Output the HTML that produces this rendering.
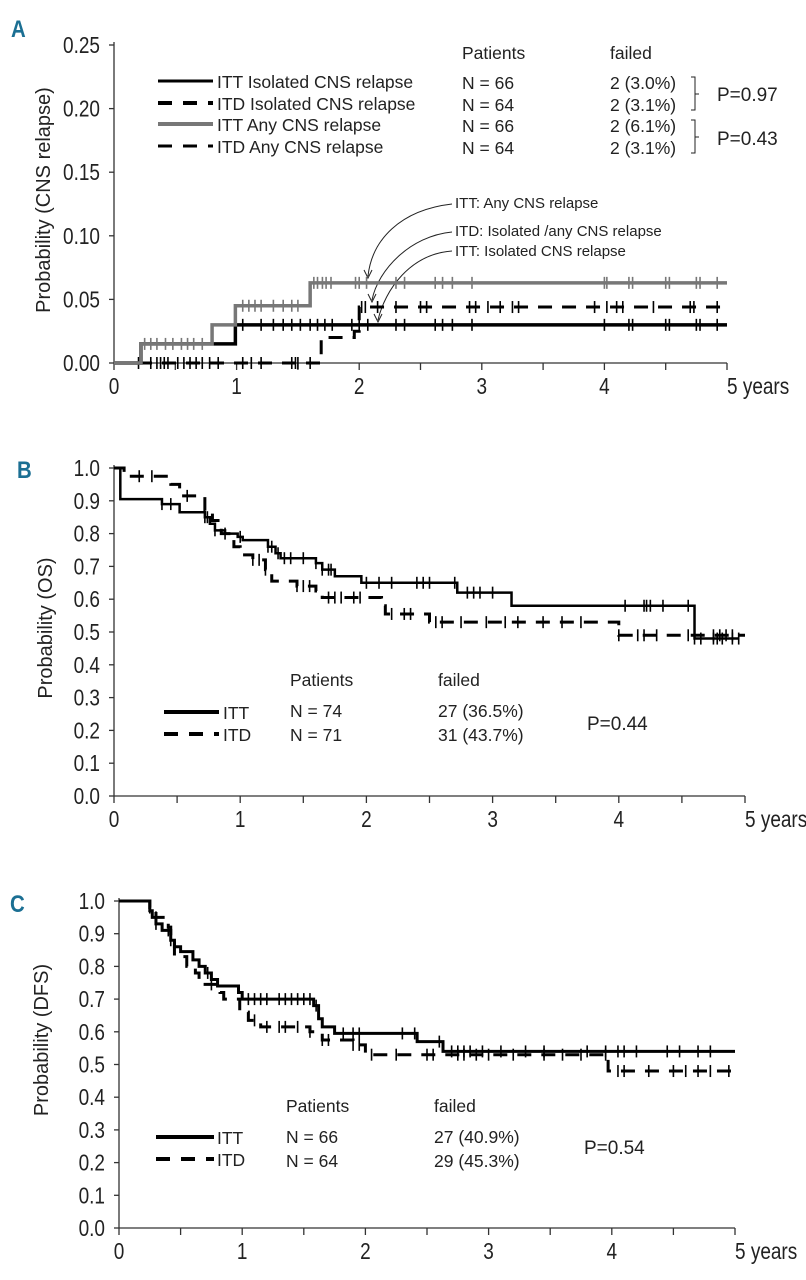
<!DOCTYPE html>
<html><head><meta charset="utf-8">
<style>
html,body{margin:0;padding:0;background:#fff;}
svg{display:block;}
text{font-family:"Liberation Sans",sans-serif;fill:#222;}
.tick{font-size:20px;}
.lg{font-size:17.5px;}
.ann{font-family:"Liberation Sans",sans-serif;font-size:15px;}
.letter{font-family:"Liberation Sans",sans-serif;font-weight:bold;fill:#1b6f93;font-size:24px;}
</style></head>
<body>
<svg id="fig" width="806" height="1280" viewBox="0 0 806 1280" xmlns="http://www.w3.org/2000/svg">
<text class="letter" x="11" y="37" transform="translate(11,37) scale(0.85,1) translate(-11,-37)">A</text>
<text class="letter" x="17" y="478" transform="translate(17,478) scale(0.85,1) translate(-17,-478)">B</text>
<text class="letter" x="10" y="912" transform="translate(10,912) scale(0.85,1) translate(-10,-912)">C</text>

<g>
<text class="lg" x="462" y="59">Patients</text><text class="lg" x="610" y="59">failed</text>
<line x1="158" y1="81" x2="213" y2="81" stroke="#000" stroke-width="3"/>
<line x1="158" y1="103" x2="213" y2="103" stroke="#000" stroke-width="4" stroke-dasharray="14,11"/>
<line x1="158" y1="124" x2="213" y2="124" stroke="#777" stroke-width="4"/>
<line x1="158" y1="146" x2="213" y2="146" stroke="#000" stroke-width="3" stroke-dasharray="14,11"/>
<text class="lg" x="217" y="88">ITT Isolated CNS relapse</text>
<text class="lg" x="217" y="110">ITD Isolated CNS relapse</text>
<text class="lg" x="217" y="131">ITT Any CNS relapse</text>
<text class="lg" x="217" y="153">ITD Any CNS relapse</text>
<text class="lg" x="462" y="89">N = 66</text><text class="lg" x="462" y="111">N = 64</text>
<text class="lg" x="462" y="132">N = 66</text><text class="lg" x="462" y="154">N = 64</text>
<text class="lg" x="610" y="89">2 (3.0%)</text><text class="lg" x="610" y="111">2 (3.1%)</text>
<text class="lg" x="610" y="132">2 (6.1%)</text><text class="lg" x="610" y="154">2 (3.1%)</text>
<path d="M691 77 H695 V110 H691 M695 94 H699" fill="none" stroke="#222" stroke-width="1"/>
<path d="M691 120 H695 V153 H691 M695 137 H699" fill="none" stroke="#222" stroke-width="1"/>
<text class="lg" x="717" y="101" style="font-size:19px">P=0.97</text>
<text class="lg" x="717" y="145" style="font-size:19px">P=0.43</text>
</g>
<g>
<text class="ann" x="455" y="208">ITT: Any CNS relapse</text>
<text class="ann" x="455" y="236">ITD: Isolated /any CNS relapse</text>
<text class="ann" x="455" y="256">ITT: Isolated CNS relapse</text>
<g fill="none" stroke="#222" stroke-width="1">
<path d="M452 204 C400 210 372 240 368 276"/><path d="M364 270 L368 278 L372 270"/>
<path d="M452 232 C410 236 378 270 372 300"/><path d="M368 294 L372 302 L376 294"/>
<path d="M452 251 C410 254 385 290 378 320"/><path d="M374 314 L378 322 L382 314"/>
</g>
</g>

<g>
<text class="lg" x="290" y="686">Patients</text><text class="lg" x="438" y="686">failed</text>
<line x1="164" y1="712" x2="219" y2="712" stroke="#000" stroke-width="4"/>
<line x1="164" y1="734" x2="219" y2="734" stroke="#000" stroke-width="4" stroke-dasharray="14,11"/>
<text class="lg" x="223" y="719">ITT</text><text class="lg" x="223" y="741">ITD</text>
<text class="lg" x="290" y="717">N = 74</text><text class="lg" x="290" y="741">N = 71</text>
<text class="lg" x="438" y="717">27 (36.5%)</text><text class="lg" x="438" y="741">31 (43.7%)</text>
<text class="lg" x="587" y="730" style="font-size:19px">P=0.44</text>
</g>
<g>
<text class="lg" x="286" y="1112">Patients</text><text class="lg" x="434" y="1112">failed</text>
<line x1="156" y1="1137" x2="214" y2="1137" stroke="#000" stroke-width="4"/>
<line x1="156" y1="1159" x2="214" y2="1159" stroke="#000" stroke-width="4" stroke-dasharray="14,11"/>
<text class="lg" x="217" y="1144">ITT</text><text class="lg" x="217" y="1166">ITD</text>
<text class="lg" x="286" y="1143">N = 66</text><text class="lg" x="286" y="1167">N = 64</text>
<text class="lg" x="434" y="1143">27 (40.9%)</text><text class="lg" x="434" y="1167">29 (45.3%)</text>
<text class="lg" x="584" y="1154" style="font-size:19px">P=0.54</text>
</g>
</svg>
<script>
// ---------- Panel A data ----------
const aYTicks = ["0.00","0.05","0.10","0.15","0.20","0.25"];
const aYVals = [0,0.05,0.10,0.15,0.20,0.25];
const xTickLabels = ["0","1","2","3","4","5 years"];
const xTickVals = [0,1,2,3,4,5];
const aIttIsoTimes = [0,0.22,0.99];
const aIttIsoVals  = [0,0.015,0.03];
const aIttIsoCens = [1.05,1.2,1.3,1.38,1.45,1.52,1.6,1.66,1.72,1.78,1.94,2.0,2.07,2.3,2.37,2.62,2.68,2.76,2.92,4.0,4.2,4.23,4.5,4.53,4.75,4.78,4.92];
const aItdTimes = [0,1.69,1.96,2.0];
const aItdVals  = [0,0.02,0.025,0.044];
const aItdCens0 = [0.2,0.3,0.35,0.38,0.41,0.44,0.52,0.57,0.62,0.67,0.72,0.78,0.85,1.05,1.12,1.2,1.45,1.48,1.5,1.6];
const aItdCens = [2.02,2.05,2.15,2.3,2.5,2.55,2.9,2.95,3.05,3.15,3.25,3.3,3.92,4.02,4.1,4.15,4.4,4.7,4.73,4.92];
const aIttAnyTimes = [0,0.22,0.8,0.99,1.6];
const aIttAnyVals  = [0,0.015,0.03,0.045,0.063];
const aIttAnyCens = [0.25,0.3,0.35,0.42,0.48,0.55,0.6,0.65,0.72,1.05,1.1,1.15,1.2,1.3,1.38,1.45,1.5,1.63,1.66,1.7,1.73,1.77,1.97,2.0,2.06,2.3,2.37,2.62,2.68,2.76,2.92,4.0,4.02,4.2,4.23,4.5,4.53,4.75,4.78,4.92];

// ---------- Panel B data ----------
const pYTicks = ["0.0","0.1","0.2","0.3","0.4","0.5","0.6","0.7","0.8","0.9","1.0"];
const pYVals = [0,0.1,0.2,0.3,0.4,0.5,0.6,0.7,0.8,0.9,1.0];
const bIttTimes = [0,0.05,0.38,0.52,0.72,0.76,0.8,0.88,0.98,1.02,1.22,1.28,1.32,1.6,1.65,1.75,1.96,2.72,3.15,4.6];
const bIttVals  = [1,0.905,0.89,0.865,0.85,0.83,0.81,0.8,0.79,0.78,0.76,0.74,0.725,0.71,0.69,0.67,0.65,0.62,0.58,0.48];
const bIttCens = [0.38,0.45,0.72,0.74,0.8,0.88,1.0,1.22,1.25,1.3,1.35,1.4,1.5,1.6,1.65,1.7,1.72,2.0,2.1,2.2,2.4,2.45,2.5,2.7,2.8,2.85,2.9,3.0,4.05,4.2,4.22,4.25,4.35,4.55,4.6,4.65,4.75,4.78,4.82,4.9,4.95];
const bItdTimes = [0,0.08,0.45,0.52,0.72,0.78,0.85,0.95,1.0,1.1,1.2,1.25,1.45,1.6,1.65,2.12,2.15,2.5,4.0];
const bItdVals  = [1,0.975,0.95,0.915,0.87,0.84,0.8,0.76,0.735,0.72,0.69,0.655,0.64,0.625,0.605,0.58,0.555,0.53,0.49];
const bItdCens = [0.2,0.3,0.58,1.1,1.15,1.2,1.45,1.5,1.55,1.7,1.75,1.8,1.9,1.95,2.2,2.3,2.35,2.55,2.6,2.75,2.95,3.1,3.2,3.4,3.55,3.7,4.0,4.15,4.2,4.3,4.55,4.75,4.8,4.85,4.9];

// ---------- Panel C data ----------
const cIttTimes = [0,0.25,0.27,0.3,0.35,0.42,0.45,0.5,0.6,0.65,0.7,0.75,0.8,0.97,1.0,1.58,1.62,1.65,1.75,2.42,2.63];
const cIttVals  = [1,0.97,0.95,0.93,0.91,0.88,0.86,0.845,0.82,0.8,0.78,0.76,0.74,0.72,0.70,0.68,0.64,0.615,0.595,0.57,0.54];
const cIttCens = [0.3,0.4,0.45,0.72,1.05,1.1,1.15,1.2,1.3,1.35,1.4,1.45,1.5,1.55,1.6,1.82,1.9,1.95,2.3,2.4,2.6,2.7,2.75,2.8,2.85,2.95,3.1,3.3,3.45,3.8,3.95,4.05,4.1,4.2,4.45,4.55,4.7,4.8];
const cItdTimes = [0,0.25,0.3,0.4,0.42,0.45,0.55,0.62,0.65,0.82,0.85,0.98,1.05,1.15,1.55,1.65,1.9,2.0,3.97];
const cItdVals  = [1,0.98,0.95,0.92,0.88,0.83,0.8,0.78,0.745,0.72,0.7,0.66,0.635,0.615,0.6,0.575,0.56,0.53,0.48];
const cItdCens = [0.25,0.3,0.42,0.75,1.1,1.2,1.3,1.35,1.45,1.55,1.65,1.7,1.9,1.95,2.05,2.25,2.5,2.55,2.75,2.8,2.9,3.0,3.2,3.45,3.6,3.75,3.95,4.05,4.1,4.3,4.5,4.6,4.7,4.8,4.95];

const NS = "http://www.w3.org/2000/svg";
const svg = document.getElementById('fig');
function mk(tag, attrs, parent){const e=document.createElementNS(NS,tag);for(const k in attrs)e.setAttribute(k,attrs[k]);(parent||svg).appendChild(e);return e;}

function makePanel(cfg){
  const g = mk('g',{});
  
  
  const sx = t => cfg.x0 + (cfg.x1-cfg.x0)*t/5;
  const sy = v => cfg.y0 - (cfg.y0-cfg.yTop)*v/cfg.yMax;
  const ax = mk('g',{stroke:'#333','stroke-width':1.3},g);
  
  
  mk('line',{x1:cfg.x0,y1:cfg.yTop-3,x2:cfg.x0,y2:cfg.y0},ax);
  mk('line',{x1:cfg.x0,y1:cfg.y0,x2:cfg.x1,y2:cfg.y0},ax);
  for(let i=0;i<=10;i++){const x=sx(i/2);mk('line',{x1:x,y1:cfg.y0,x2:x,y2:cfg.y0+7},ax);}
  cfg.yVals.forEach((v,i)=>{
    mk('line',{x1:cfg.x0-5,y1:sy(v),x2:cfg.x0,y2:sy(v)},ax);
    const t=mk('text',{class:'tick',x:cfg.x0-14,y:sy(v)+8,'text-anchor':'end',transform:`translate(${cfg.x0-14},${sy(v)+8}) scale(0.95,1.15) translate(${-(cfg.x0-14)},${-(sy(v)+8)})`},g);
    
    
    t.textContent=cfg.yTicks[i];
  });
  xTickVals.forEach((v,i)=>{
    const x=sx(v)+(i===5?0:0), y=cfg.y0+31;
    const t=mk('text',{class:'tick',x:x,y:y,'text-anchor':i===5?'start':'middle',transform:`translate(${x},${y}) scale(0.95,1.15) translate(${-x},${-y})`},g);
    
    
    t.textContent=xTickLabels[i];
  });
  const yt=mk('text',{class:'tick',x:0,y:0,'text-anchor':'middle',transform:`translate(${cfg.titleX},${cfg.titleY}) rotate(-90)`},g);
  
  
  yt.textContent=cfg.title;
  cfg.series.forEach(s=>{
    let d=`M${sx(s.times[0])},${sy(s.vals[0])}`;
    for(let i=1;i<s.times.length;i++){d+=` H${sx(s.times[i])} V${sy(s.vals[i])}`;}
    d+=` H${sx(s.end)}`;
    const p=mk('path',{d:d,fill:'none',stroke:s.color,'stroke-width':s.w,'stroke-dasharray':s.dash||'none'},g);
    
    
    s.cens.forEach(c=>{
      let v=s.vals[0];for(let i=0;i<s.times.length;i++){if(s.times[i]<=c)v=s.vals[i];}
      const m=mk('line',{x1:sx(c),y1:sy(v)-6,x2:sx(c),y2:sy(v)+6,stroke:s.color,'stroke-width':1.6},g);
      
      
    });
  });
}

makePanel({name:'panel-a-cns-relapse',x0:114,x1:727,y0:363,yTop:45,yMax:0.25,yVals:aYVals,yTicks:aYTicks,
  title:'Probability (CNS relapse)',titleX:50,titleY:200,
  series:[
    {name:'itd-any-line',times:aItdTimes,vals:aItdVals,cens:aItdCens.concat(aItdCens0),end:5,color:'#000',w:3,dash:'14,10'},
    {name:'itt-isolated-line',times:aIttIsoTimes,vals:aIttIsoVals,cens:aIttIsoCens,end:5,color:'#000',w:3.5},
    {name:'itt-any-line',times:aIttAnyTimes,vals:aIttAnyVals,cens:aIttAnyCens,end:5,color:'#777',w:3.5}
  ]});
makePanel({name:'panel-b-os',x0:114,x1:745,y0:796,yTop:468,yMax:1,yVals:pYVals,yTicks:pYTicks,
  title:'Probability (OS)',titleX:52,titleY:628,
  series:[
    {name:'itd-os-line',times:bItdTimes,vals:bItdVals,cens:bItdCens,end:5.0,color:'#000',w:3,dash:'14,10'},
    {name:'itt-os-line',times:bIttTimes,vals:bIttVals,cens:bIttCens,end:4.95,color:'#000',w:2.5}
  ]});
makePanel({name:'panel-c-dfs',x0:119,x1:735,y0:1228,yTop:901,yMax:1,yVals:pYVals,yTicks:pYTicks,
  title:'Probability (DFS)',titleX:48,titleY:1040,
  series:[
    {name:'itd-dfs-line',times:cItdTimes,vals:cItdVals,cens:cItdCens,end:5.0,color:'#000',w:3,dash:'14,10'},
    {name:'itt-dfs-line',times:cIttTimes,vals:cIttVals,cens:cIttCens,end:5.0,color:'#000',w:3}
  ]});
</script>
</body></html>
